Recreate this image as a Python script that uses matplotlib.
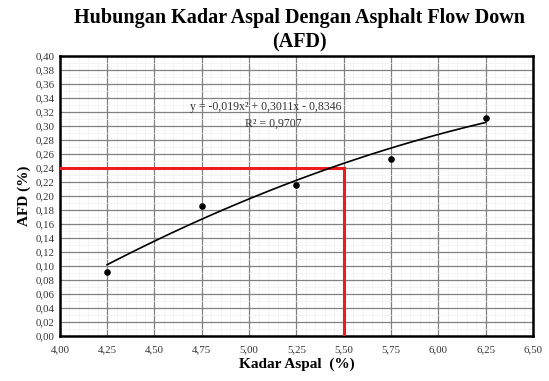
import numpy as np
import matplotlib.pyplot as plt
from matplotlib.ticker import MultipleLocator, FuncFormatter

# data
kadar_aspal = [4.25, 4.75, 5.25, 5.75, 6.25]
afd = [0.091, 0.186, 0.216, 0.253, 0.311]
trend_coef = [-0.019, 0.3011, -0.8346]
r_squared = 0.9707
target_afd = 0.24
target_kadar = 5.50

plt.rcParams['font.family'] = ['Liberation Serif', 'DejaVu Serif']

fig = plt.figure(figsize=(5.49, 3.81), dpi=100)
ax = fig.add_axes([0.109, 0.118, 0.862, 0.735])

ax.set_xlim(4.0, 6.5)
ax.set_ylim(0.0, 0.40)
ax.xaxis.set_major_locator(MultipleLocator(0.25))
ax.xaxis.set_minor_locator(MultipleLocator(0.05))
ax.yaxis.set_major_locator(MultipleLocator(0.02))
ax.yaxis.set_minor_locator(MultipleLocator(0.01))
comma = FuncFormatter(lambda v, p: f"{v:.2f}".replace('.', ','))
ax.xaxis.set_major_formatter(comma)
ax.yaxis.set_major_formatter(comma)
ax.tick_params(which='both', length=0, labelsize=7.8, colors='#333333')
ax.tick_params(axis='x', pad=7)
ax.tick_params(axis='y', pad=4)

ax.grid(which='major', color='#808080', linewidth=0.9)
ax.grid(which='minor', color='#f2f2f2', linewidth=0.5)
ax.set_axisbelow(True)
for s in ax.spines.values():
    s.set_linewidth(1.8)
    s.set_color('black')

# red guide lines
ax.plot([4.0, target_kadar], [target_afd, target_afd], color='#ee1c1c', lw=2.2, zorder=3)
ax.plot([target_kadar, target_kadar], [0.0, target_afd], color='#ee1c1c', lw=2.2, zorder=3)

# polynomial trend line
xs = np.linspace(min(kadar_aspal), max(kadar_aspal), 100)
ax.plot(xs, np.polyval(trend_coef, xs), color='black', lw=1.2, zorder=4)
ax.scatter(kadar_aspal, afd, s=14, color='black', zorder=5)

ax.text(5.09, 0.327, "y = -0,019x² + 0,3011x - 0,8346", ha='center', va='center',
        fontsize=8.5, color='#333333')
ax.text(5.13, 0.303, f"R² = {r_squared:.4f}".replace('.', ','), ha='center', va='center',
        fontsize=8.5, color='#333333')

ax.set_xlabel("Kadar Aspal  (%)", fontsize=11, fontweight='bold', labelpad=2)
ax.set_ylabel("AFD (%)", fontsize=11, fontweight='bold', labelpad=3)
fig.suptitle("Hubungan Kadar Aspal Dengan Asphalt Flow Down\n(AFD)", x=0.545, y=0.978,
             fontsize=14.5, fontweight='bold', linespacing=1.3)

fig.savefig("out.png", dpi=100)
